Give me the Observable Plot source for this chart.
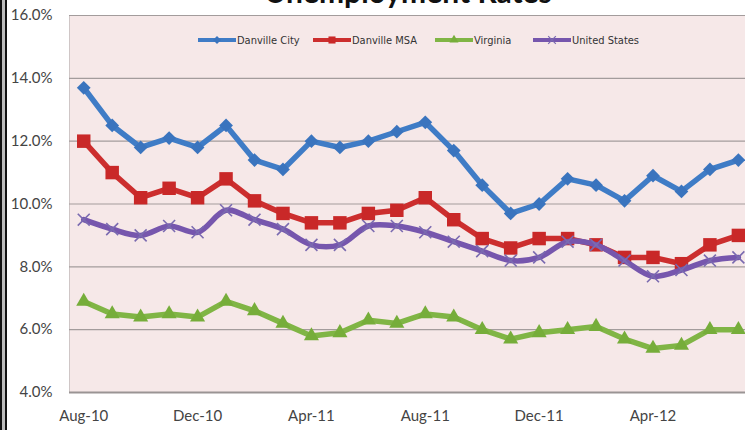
<!DOCTYPE html>
<html><head><meta charset="utf-8">
<script src="https://cdn.jsdelivr.net/npm/d3@7"></script>
<script src="https://cdn.jsdelivr.net/npm/@observablehq/plot@0.6"></script>
<style>
body{margin:0;background:#fff;}
#wrap{position:relative;width:745px;height:430px;overflow:hidden;background:#fff;font-family:Lato,"Open Sans",sans-serif;}
#wrap svg.plot{position:absolute;left:0;top:0;}
.leg{position:absolute;top:33px;height:14px;display:flex;align-items:center;font-family:"Liberation Sans Narrow","DejaVu Sans Condensed",sans-serif;font-size:11px;color:#333;white-space:nowrap;}
.leg svg{display:block;margin-right:1px;}
</style></head><body><div id="wrap"></div>
<script>
const months = ["Aug-10","Sep-10","Oct-10","Nov-10","Dec-10","Jan-11","Feb-11","Mar-11","Apr-11","May-11","Jun-11","Jul-11","Aug-11","Sep-11","Oct-11","Nov-11","Dec-11","Jan-12","Feb-12","Mar-12","Apr-12","May-12","Jun-12","Jul-12"];
const seriesNames = ["Danville City","Danville MSA","Virginia","United States"];
const danvilleCity = [13.7,12.5,11.8,12.1,11.8,12.5,11.4,11.1,12.0,11.8,12.0,12.3,12.6,11.7,10.6,9.7,10.0,10.8,10.6,10.1,10.9,10.4,11.1,11.4];
const danvilleMSA  = [12.0,11.0,10.2,10.5,10.2,10.8,10.1,9.7,9.4,9.4,9.7,9.8,10.2,9.5,8.9,8.6,8.9,8.9,8.7,8.3,8.3,8.1,8.7,9.0];
const virginia     = [6.9,6.5,6.4,6.5,6.4,6.9,6.6,6.2,5.8,5.9,6.3,6.2,6.5,6.4,6.0,5.7,5.9,6.0,6.1,5.7,5.4,5.5,6.0,6.0];
const unitedStates = [9.5,9.2,9.0,9.3,9.1,9.8,9.5,9.2,8.7,8.7,9.3,9.3,9.1,8.8,8.5,8.2,8.3,8.8,8.7,8.2,7.7,7.9,8.2,8.3];
const yTicks = [4,6,8,10,12,14,16];
const xTickIdx = [0,4,8,12,16,20];
const title = "Unemployment Rates";

const colors = ["#3f7cc6","#cc2e2e","#80b545","#7656ad"];
const markerColors = ["#3a74be","#c92828","#76ad3a","#7a6ab0"];
const symbols = ["diamond2","square","triangle","times"];
const radii = [6.2,7.6,5.6,5.5];
const curves = ["linear","linear","linear","catmull-rom"];
const allValues = [danvilleCity,danvilleMSA,virginia,unitedStates];

const tables = allValues.map((vals,s)=>vals.map((v,i)=>({i, v, month: months[i], series: seriesNames[s]})));

const marks = [
  Plot.frame({fill:"#f6e8e8", stroke:"#cfc6c6"}),
  Plot.ruleY(yTicks.slice(1), {stroke:"#a39c9c", strokeWidth:1.2}),
  Plot.ruleY([4], {stroke:"#9a9494", strokeWidth:2})
];
tables.forEach((t,s)=>{
  marks.push(Plot.line(t, {x:"i", y:"v", stroke:colors[s], strokeWidth:5.5, curve:curves[s], strokeLinejoin:"round"}));
  if (symbols[s]==="times") {
    marks.push(Plot.dot(t, {x:"i", y:"v", symbol:"times", r:radii[s], stroke:markerColors[s], strokeWidth:1.6}));
  } else {
    marks.push(Plot.dot(t, {x:"i", y:"v", symbol:symbols[s], r:radii[s], fill:markerColors[s], stroke:"none"}));
  }
});

const chart = Plot.plot({
  width:745, height:430,
  marginLeft:69, marginRight:0, marginTop:15, marginBottom:38,
  style:{background:"transparent", fontFamily:"Lato, 'Open Sans', sans-serif", fontSize:"15px", color:"#444"},
  x:{domain:[-0.5,23.25], ticks:xTickIdx, tickFormat:i=>months[i], tickSize:0, tickPadding:18, label:null},
  y:{domain:[4,16], ticks:yTicks, tickFormat:d=>d.toFixed(1)+"%", tickSize:0, tickPadding:17, label:null},
  marks
});
chart.classList.add("plot");
const wrap = document.getElementById("wrap");
wrap.appendChild(chart);

// left double border
const b1 = document.createElement("div");
b1.style.cssText="position:absolute;left:0;top:0;width:2px;height:430px;background:#111;";
const b2 = document.createElement("div");
b2.style.cssText="position:absolute;left:5px;top:0;width:2px;height:430px;background:#111;";
const b3 = document.createElement("div");
b3.style.cssText="position:absolute;left:2px;top:0;width:3px;height:430px;background:#bbb;";
wrap.appendChild(b1);wrap.appendChild(b3);wrap.appendChild(b2);

// title (cropped at top, as in the reference)
const tsvg = document.createElementNS("http://www.w3.org/2000/svg","svg");
tsvg.setAttribute("width","745");tsvg.setAttribute("height","14");
tsvg.style.cssText="position:absolute;left:0;top:0;";
const tt = document.createElementNS("http://www.w3.org/2000/svg","text");
tt.setAttribute("x","408");tt.setAttribute("y","3");tt.setAttribute("text-anchor","middle");
tt.setAttribute("font-family","Lato, sans-serif");tt.setAttribute("font-weight","bold");tt.setAttribute("font-size","30");
tt.setAttribute("fill","#111");tt.textContent=title;
tsvg.appendChild(tt);wrap.appendChild(tsvg);

// legend
const legX = [198,313,435,533];
seriesNames.forEach((name,s)=>{
  const d = document.createElement("div");
  d.className="leg"; d.style.left=legX[s]+"px";
  const sw = d3.create("svg").attr("width",38).attr("height",14);
  sw.append("line").attr("x1",0).attr("x2",38).attr("y1",7).attr("y2",7).attr("stroke",colors[s]).attr("stroke-width",4);
  const sym = {diamond2:d3.symbolDiamond2, square:d3.symbolSquare, triangle:d3.symbolTriangle, times:d3.symbolTimes}[symbols[s]];
  const size = [40,50,35,40][s];
  const p = sw.append("path").attr("d", d3.symbol(sym, size)()).attr("transform","translate(19,7)");
  if (symbols[s]==="times") p.attr("fill","none").attr("stroke",markerColors[s]).attr("stroke-width",1.2);
  else p.attr("fill",markerColors[s]);
  d.appendChild(sw.node());
  const span = document.createElement("span"); span.textContent=name; d.appendChild(span);
  wrap.appendChild(d);
});
</script></body></html>
